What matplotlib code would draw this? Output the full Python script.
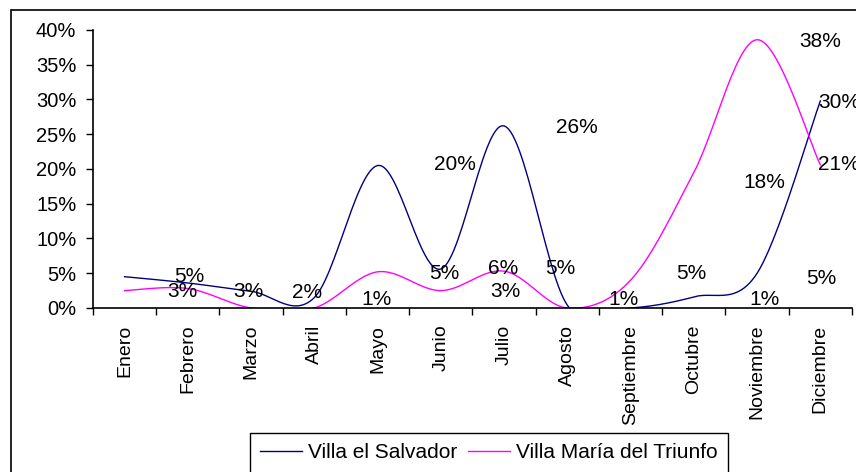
import numpy as np
import matplotlib
matplotlib.use('Agg')
import matplotlib.pyplot as plt
from matplotlib.patches import Rectangle

plt.rcParams['font.family'] = ['Liberation Sans', 'DejaVu Sans']

# datos (porcentaje por mes)
meses = ['Enero', 'Febrero', 'Marzo', 'Abril', 'Mayo', 'Junio', 'Julio',
         'Agosto', 'Septiembre', 'Octubre', 'Noviembre', 'Diciembre']
villa_salvador = [4.5, 3.6, 2.4, 1.5, 20.5, 5.6, 26.2, 0.4, 0.0, 1.6, 5.0, 29.8]
villa_maria = [2.5, 2.8, 0.0, 0.0, 5.2, 2.5, 5.3, 0.0, 4.0, 19.5, 38.6, 20.6]

# etiquetas de datos tal como aparecen (texto, posicion x en meses, y en %)
etiquetas = ['5%', '3%', '3%', '2%', '1%', '20%', '5%', '6%', '3%', '26%',
             '5%', '1%', '5%', '18%', '1%', '38%', '30%', '21%', '5%']
etiq_x = [1.03, 0.92, 1.95, 2.88, 3.99, 5.22, 5.05, 5.99, 6.02, 7.15,
          6.89, 7.89, 8.96, 10.12, 10.12, 11.0, 11.3, 11.3, 11.02]
etiq_y = [4.6, 2.3, 2.4, 2.2, 1.15, 20.6, 5.0, 5.75, 2.3, 26.0,
          5.75, 1.15, 5.0, 18.1, 1.15, 38.4, 29.6, 20.6, 4.3]


# curva suavizada estilo Excel (bezier tipo Catmull-Rom)
def suavizar(y, n=30):
    y = np.asarray(y, dtype=float)
    x = np.arange(len(y), dtype=float)
    pts = np.column_stack([x, y])
    pts_ext = np.vstack([pts[0], pts, pts[-1]])
    t = np.linspace(0, 1, n)[:, None]
    salida = []
    for i in range(len(pts) - 1):
        p0 = pts_ext[i + 1]
        p3 = pts_ext[i + 2]
        c1 = p0 + (pts_ext[i + 2] - pts_ext[i]) / 6
        c2 = p3 - (pts_ext[i + 3] - pts_ext[i + 1]) / 6
        seg = ((1 - t) ** 3) * p0 + 3 * ((1 - t) ** 2) * t * c1 + 3 * (1 - t) * t ** 2 * c2 + t ** 3 * p3
        salida.append(seg if i == 0 else seg[1:])
    salida = np.vstack(salida)
    return salida[:, 0], salida[:, 1]


fig = plt.figure(figsize=(8.56, 4.72), dpi=100)
ax = fig.add_axes([0.1086, 0.3475, 0.8867, 0.589])

xs, ys = suavizar(villa_salvador)
ax.plot(xs, ys, color='#000080', lw=1.0, label='Villa el Salvador')
xm, ym = suavizar(villa_maria)
ax.plot(xm, ym, color='#FF00FF', lw=1.0, label='Villa María del Triunfo')

for txt, x, y in zip(etiquetas, etiq_x, etiq_y):
    ax.text(x, y, txt, fontsize=15, ha='center', va='center', clip_on=False)

ax.set_xlim(-0.5, 11.5)
ax.set_ylim(0, 40)
ax.set_yticks(np.arange(0, 41, 5))
ax.set_yticklabels(['{}%'.format(v) for v in range(0, 41, 5)], fontsize=14.5)
ax.set_xticks(np.arange(-0.5, 12, 1))
ax.set_xticklabels([])
ax.set_xticks(np.arange(12), minor=True)
ax.set_xticklabels(meses, minor=True, rotation=90, fontsize=14, va='top')
ax.tick_params(axis='x', which='minor', length=0, pad=12)
ax.tick_params(axis='x', which='major', length=5, direction='out', width=1)
ax.tick_params(axis='y', length=5, pad=7, width=1)

for s in ['top', 'right']:
    ax.spines[s].set_visible(False)
ax.spines['left'].set_linewidth(1.2)
ax.spines['bottom'].set_linewidth(1.2)

leg = ax.legend(loc='upper left', bbox_to_anchor=(250 / 856, 1 - 433 / 472),
                bbox_transform=fig.transFigure, ncol=2, fontsize=15,
                fancybox=False, framealpha=1, edgecolor='black',
                handlelength=2.0, handletextpad=0.3, columnspacing=0.5,
                borderpad=0.5, borderaxespad=0)
leg.get_frame().set_linewidth(1.0)

# borde del area del grafico
fig.add_artist(Rectangle((11 / 856, -0.1), 1.0, 1.1 - 10 / 472, transform=fig.transFigure,
                         fill=False, edgecolor='black', lw=1.2))

plt.savefig('out.png', dpi=100)
